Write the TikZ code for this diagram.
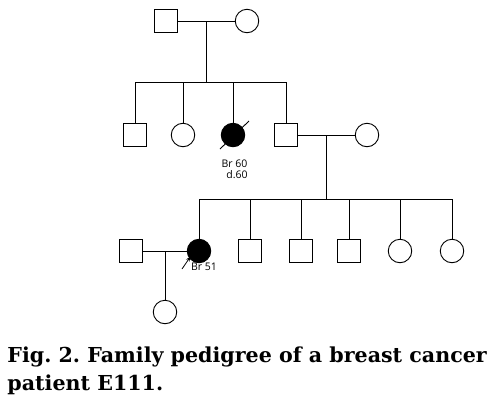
\documentclass[tikz,border=0pt]{standalone}
\usepackage{fontspec}
\setmainfont{DejaVu Serif}
\setsansfont{Open Sans}
\usetikzlibrary{positioning,arrows.meta}

\tikzset{
	male/.style={draw,rectangle,minimum size=22.5pt,inner sep=0pt,line width=0.9pt},
	female/.style={draw,circle,minimum size=23.5pt,inner sep=0pt,line width=0.9pt},
	affected/.style={fill=black},
	lbl/.style={font=\sffamily\fontsize{10.5}{11}\selectfont,inner sep=0pt},
	caption/.style={anchor=base west,inner sep=0pt,font=\bfseries\fontsize{20.6}{24}\selectfont},
}

\begin{document}
\frenchspacing
\begin{tikzpicture}[x=1pt,y=-1pt,line width=0.9pt]
	\useasboundingbox (0,0) rectangle (493,397);
	% generation I
	\node [male] (A) at (166,21) {};
	\node [female] (B) at (247,21) {};
	\coordinate (mAB) at (206,21);
	\draw (A) -- (B);
	% generation II
	\node [male] (C) at (135,135) {};
	\node [female] (D) at (183,135) {};
	\node [female,affected] (E) at (233,135) {};
	\node [male] (F) at (286,135) {};
	\node [female] (G) at (367,135) {};
	\coordinate (mFG) at (326,135);
	\draw (F) -- (G);
	\coordinate (sibL) at (135,82);
	\coordinate (sibR) at (286,82);
	\coordinate (sibM) at (206,82);
	\draw (mAB) -- (sibM);
	\draw (sibL) -- (sibR);
	\draw (sibL) -- (C);
	\draw (D |- sibL) -- (D);
	\draw (E |- sibL) -- (E);
	\draw (sibR) -- (F);
	\coordinate (dE1) at (220,149);
	\coordinate (dE2) at (249,121);
	\draw (dE1) -- (dE2);
	\node [lbl] (brE) at (234.5,164) {Br 60};
	\node [lbl] (dE) at (237,175) {d.60};
	% generation III
	\node [male] (H) at (131,251) {};
	\node [female,affected] (P) at (199,251) {};
	\node [male] (K) at (250,251) {};
	\node [male] (L) at (301,251) {};
	\node [male] (M) at (349,251) {};
	\node [female] (N) at (400,251) {};
	\node [female] (O) at (452,251) {};
	\coordinate (mHP) at (165,251);
	\draw (H) -- (P);
	\coordinate (sib2L) at (199,199);
	\coordinate (sib2R) at (452,199);
	\coordinate (sib2M) at (326,199);
	\draw (mFG) -- (sib2M);
	\draw (sib2L) -- (sib2R);
	\draw (sib2L) -- (P);
	\draw (K |- sib2L) -- (K);
	\draw (L |- sib2L) -- (L);
	\draw (M |- sib2L) -- (M);
	\draw (N |- sib2L) -- (N);
	\draw (sib2R) -- (O);
	\coordinate (arrT) at (182,269);
	\coordinate (arrH) at (190.5,256.5);
	\draw [-{Stealth[length=5pt,width=4pt]},line width=0.8pt] (arrT) -- (arrH);
	\node [lbl] (brP) at (204,267) {Br 51};
	% generation IV
	\node [female] (Q) at (165,312) {};
	\draw (mHP) -- (Q);
	% caption
	\node [caption] (cap1) at (7,362) {Fig. 2. Family pedigree of a breast cancer};
	\node [caption] (cap2) at (7,390) {patient E111.};
\end{tikzpicture}
\end{document}
